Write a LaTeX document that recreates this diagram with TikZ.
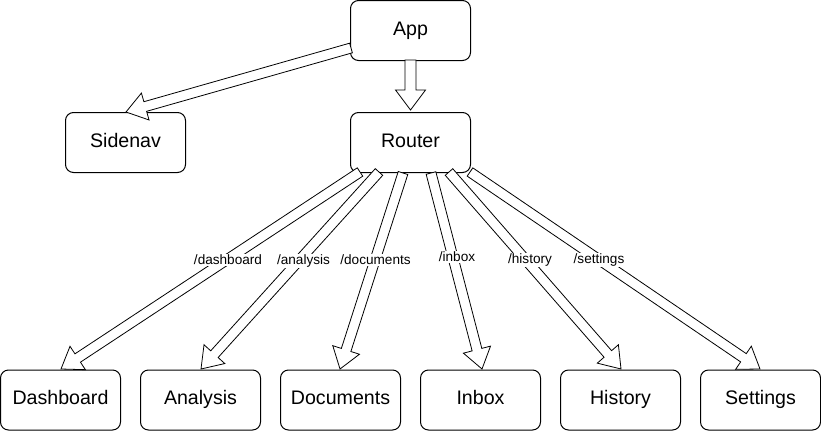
\documentclass[tikz,border=0pt]{standalone}
\usepackage{fontspec}
\setmainfont{Liberation Sans}
\usetikzlibrary{calc}
\tikzset{
 box/.style={draw, rounded corners=8pt, minimum width=120pt, minimum height=60pt, inner sep=0pt, text height=14pt, text depth=5pt, font=\fontsize{19.6}{23}\selectfont, line width=1pt, fill=white},
 farrow/.style={draw, fill=white, line width=0.8pt, line join=miter},
 lbl/.style={fill=white, inner sep=1pt, font=\fontsize{13.6}{16}\selectfont}
}
\newcommand{\flexarr}[4]{%
 \coordinate (fh) at ($(#2)!20pt!(#1)$);
 \draw[farrow] ($(#1)!#3!90:(#2)$) -- ($(fh)!#3!90:(#2)$) -- ($(fh)!#4!90:(#2)$) -- (#2) -- ($(fh)!#4!-90:(#2)$) -- ($(fh)!#3!-90:(#2)$) -- ($(#1)!#3!-90:(#2)$) -- cycle;
}
\begin{document}
\begin{tikzpicture}[x=1pt,y=-1pt]
\useasboundingbox (0,0) rectangle (821,431);
\node[box] (app) at (410.5,30.5) {App};
\node[box] (sidenav) at (125.5,142.5) {Sidenav};
\node[box] (router) at (410.5,142.5) {Router};
\node[box] (dash) at (60.5,400) {Dashboard};
\node[box] (ana) at (200.5,400) {Analysis};
\node[box] (doc) at (340.5,400) {Documents};
\node[box] (inbox) at (480.5,400) {Inbox};
\node[box] (hist) at (620.5,400) {History};
\node[box] (set) at (760.5,400) {Settings};
% connector end points
\coordinate (s0) at (351,48);   \coordinate (t0) at (126,112);
\coordinate (s1) at (410.5,60); \coordinate (t1) at (410.5,110);
\coordinate (s2) at (360,172);  \coordinate (t2) at (61,369);
\coordinate (s3) at (379,172);  \coordinate (t3) at (201,369);
\coordinate (s4) at (403,173);  \coordinate (t4) at (340,369);
\coordinate (s5) at (431,173);  \coordinate (t5) at (482,369);
\coordinate (s6) at (449,172);  \coordinate (t6) at (621,369);
\coordinate (s7) at (470,172);  \coordinate (t7) at (760,369);
\flexarr{s0}{t0}{5pt}{14pt}
\flexarr{s1}{t1}{5.5pt}{15pt}
\flexarr{s2}{t2}{5pt}{14pt}
\flexarr{s3}{t3}{5pt}{14pt}
\flexarr{s4}{t4}{5pt}{14pt}
\flexarr{s5}{t5}{5pt}{14pt}
\flexarr{s6}{t6}{5pt}{14pt}
\flexarr{s7}{t7}{5pt}{14pt}
\node[lbl] (l2) at (228,260) {/dashboard};
\node[lbl] (l3) at (303.5,261) {/analysis};
\node[lbl] (l4) at (375.5,260) {/documents};
\node[lbl] (l5) at (457,257) {/inbox};
\node[lbl] (l6) at (530,260) {/history};
\node[lbl] (l7) at (599,260) {/settings};
\end{tikzpicture}
\end{document}
